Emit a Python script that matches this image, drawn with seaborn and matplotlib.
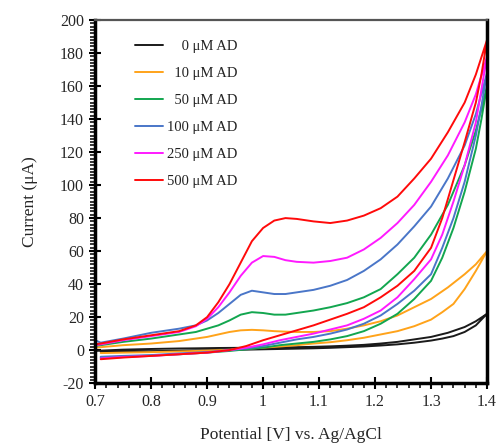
import numpy as np
import pandas as pd
import matplotlib
matplotlib.use("Agg")
import matplotlib.pyplot as plt
from matplotlib.ticker import MultipleLocator
import seaborn as sns

# ---- data ----
labels = ["\u2007\u20070 \u03bcM AD", "\u200710 \u03bcM AD", "\u200750 \u03bcM AD",
          "100 \u03bcM AD", "250 \u03bcM AD", "500 \u03bcM AD"]
colors = ["#1a1a1a", "#FFA31A", "#12A64F", "#4A76C8", "#FF1AFF", "#FF0A0A"]

V_fwd = [0.70, 0.71, 0.75, 0.80, 0.85, 0.88, 0.90, 0.92, 0.94, 0.96, 0.98, 1.00, 1.02,
         1.04, 1.06, 1.09, 1.12, 1.15, 1.18, 1.21, 1.24, 1.27, 1.30, 1.33, 1.36, 1.38, 1.40]
V_rev = [1.40, 1.39, 1.38, 1.36, 1.34, 1.32, 1.30, 1.27, 1.24, 1.21, 1.18, 1.15, 1.12,
         1.09, 1.06, 1.03, 1.00, 0.97, 0.94, 0.90, 0.85, 0.80, 0.75, 0.71]

I0_fwd = [-0.5, -0.3, 0.3, 0.7, 1.0, 1.1, 1.2, 1.3, 1.35, 1.4, 1.45, 1.5, 1.6,
          1.7, 1.8, 2.0, 2.3, 2.7, 3.2, 4.0, 5.0, 6.5, 8.0, 10.5, 14.0, 17.5, 22.0]
I10_fwd = [1.5, 1.8, 3.0, 4.0, 5.5, 7.0, 8.0, 9.5, 11.0, 12.0, 12.3, 12.0, 11.5,
           11.2, 11.0, 11.0, 11.5, 13.0, 15.0, 17.5, 21.0, 26.0, 31.0, 38.0, 46.0, 52.0, 60.0]
I50_fwd = [2.5, 3.0, 5.0, 7.0, 9.5, 11.0, 13.0, 15.0, 18.0, 21.5, 23.0, 22.5, 21.5,
           21.5, 22.5, 24.0, 26.0, 28.5, 32.0, 37.0, 46.0, 56.0, 70.0, 88.0, 112.0, 133.0, 160.0]
I100_fwd = [6.0, 4.5, 7.0, 10.5, 13.0, 15.0, 18.0, 22.5, 28.0, 33.5, 36.0, 35.0, 34.0,
            34.0, 35.0, 36.5, 39.0, 42.5, 48.0, 55.0, 64.0, 75.0, 87.0, 104.0, 124.0, 143.0, 168.0]
I250_fwd = [3.0, 3.5, 6.0, 8.5, 11.0, 14.5, 19.0, 26.0, 35.0, 45.0, 53.0, 57.0, 56.5,
            54.5, 53.5, 53.0, 54.0, 56.0, 61.0, 68.0, 77.0, 88.0, 102.0, 118.0, 138.0, 155.0, 178.0]
I500_fwd = [3.5, 4.0, 6.5, 9.0, 11.5, 15.0, 20.0, 29.0, 40.0, 53.0, 66.0, 74.0, 78.5,
            80.0, 79.5, 78.0, 77.0, 78.5, 81.5, 86.0, 93.0, 104.0, 116.0, 132.0, 150.0, 167.0, 188.0]

I0_rev = [22.0, 18.5, 15.0, 11.0, 8.5, 7.0, 5.8, 4.5, 3.5, 2.8, 2.2, 1.8, 1.4,
          1.1, 0.9, 0.7, 0.5, 0.3, 0.1, -0.1, -0.4, -0.6, -0.8, -1.0]
I10_rev = [60.0, 54.0, 48.0, 37.0, 28.0, 23.0, 18.5, 14.5, 11.5, 9.5, 7.5, 6.0, 4.8,
           4.0, 3.0, 2.2, 1.5, 0.8, 0.2, -0.3, -0.8, -1.2, -1.5, -1.8]
I50_rev = [160.0, 140.0, 122.0, 96.0, 74.0, 56.0, 42.0, 31.0, 22.0, 16.0, 11.5, 8.5, 6.5,
           5.0, 4.0, 3.0, 1.5, 0.5, -0.5, -1.5, -2.5, -3.3, -4.0, -4.5]
I100_rev = [168.0, 148.0, 130.0, 102.0, 80.0, 62.0, 46.0, 36.0, 28.0, 21.0, 16.0, 12.5, 10.0,
            8.0, 6.5, 4.5, 2.5, 1.0, 0.0, -1.2, -2.0, -3.0, -3.5, -4.0]
I250_rev = [178.0, 158.0, 138.0, 112.0, 90.0, 70.0, 55.0, 43.0, 32.0, 24.0, 19.0, 15.0, 12.5,
            10.0, 8.0, 6.0, 3.5, 1.5, 0.0, -1.5, -2.5, -3.5, -4.2, -5.0]
I500_rev = [188.0, 167.0, 150.0, 126.0, 103.0, 80.0, 62.0, 48.0, 39.0, 32.0, 26.0, 22.0, 18.5,
            15.0, 12.0, 9.0, 6.0, 2.5, 0.0, -1.5, -2.5, -3.5, -4.5, -5.5]

fwd = [I0_fwd, I10_fwd, I50_fwd, I100_fwd, I250_fwd, I500_fwd]
rev = [I0_rev, I10_rev, I50_rev, I100_rev, I250_rev, I500_rev]

frames = []
for lab, f, r in zip(labels, fwd, rev):
    v = list(V_fwd) + list(V_rev)
    i = list(f) + list(r)
    frames.append(pd.DataFrame({"V": v, "I": i, "series": lab, "order": range(len(v))}))
df = pd.concat(frames, ignore_index=True)

# ---- style ----
sns.set_style("ticks")
plt.rcParams["font.family"] = ["Liberation Serif", "DejaVu Serif"]
plt.rcParams["axes.unicode_minus"] = False

fig = plt.figure(figsize=(4.98, 4.45), dpi=100)
ax = fig.add_axes([0.191, 0.139, 0.787, 0.816])

sns.lineplot(data=df, x="V", y="I", hue="series", hue_order=labels,
             palette=colors, sort=False, estimator=None, units="series",
             linewidth=1.4, ax=ax)

ax.set_xlim(0.7, 1.4)
ax.set_ylim(-20, 200)
ax.xaxis.set_minor_locator(MultipleLocator(0.02))
ax.yaxis.set_major_locator(MultipleLocator(20))
ax.yaxis.set_minor_locator(MultipleLocator(2))
ax.set_xticks(np.round(np.arange(0.7, 1.401, 0.1), 1))
ax.set_xticklabels(["0.7", "0.8", "0.9", "1", "1.1", "1.2", "1.3", "1.4"])

ax.tick_params(axis="both", which="major", direction="inout", length=8, width=1.5,
               labelsize=11.5, color="black", pad=4)
ax.tick_params(axis="both", which="minor", direction="out", length=3.5, width=1.1,
               color="black")

for s in ["left", "bottom", "right"]:
    ax.spines[s].set_visible(True)
    ax.spines[s].set_linewidth(2.5)
    ax.spines[s].set_color("black")
ax.spines["top"].set_visible(True)
ax.spines["top"].set_linewidth(1.6)
ax.spines["top"].set_color("#555555")

ax.set_xlabel("Potential [V] vs. Ag/AgCl", fontsize=12.5, labelpad=12)
ax.set_ylabel("Current (\u03bcA)", fontsize=12.5, labelpad=16)

leg = ax.legend(loc="upper left", bbox_to_anchor=(0.088, 0.962), frameon=False,
                fontsize=10.5, handlelength=1.9, handletextpad=0.25,
                labelspacing=0.95, borderaxespad=0.0)
for t in leg.get_texts():
    t.set_color("#222222")

fig.savefig("out.png", dpi=100)
